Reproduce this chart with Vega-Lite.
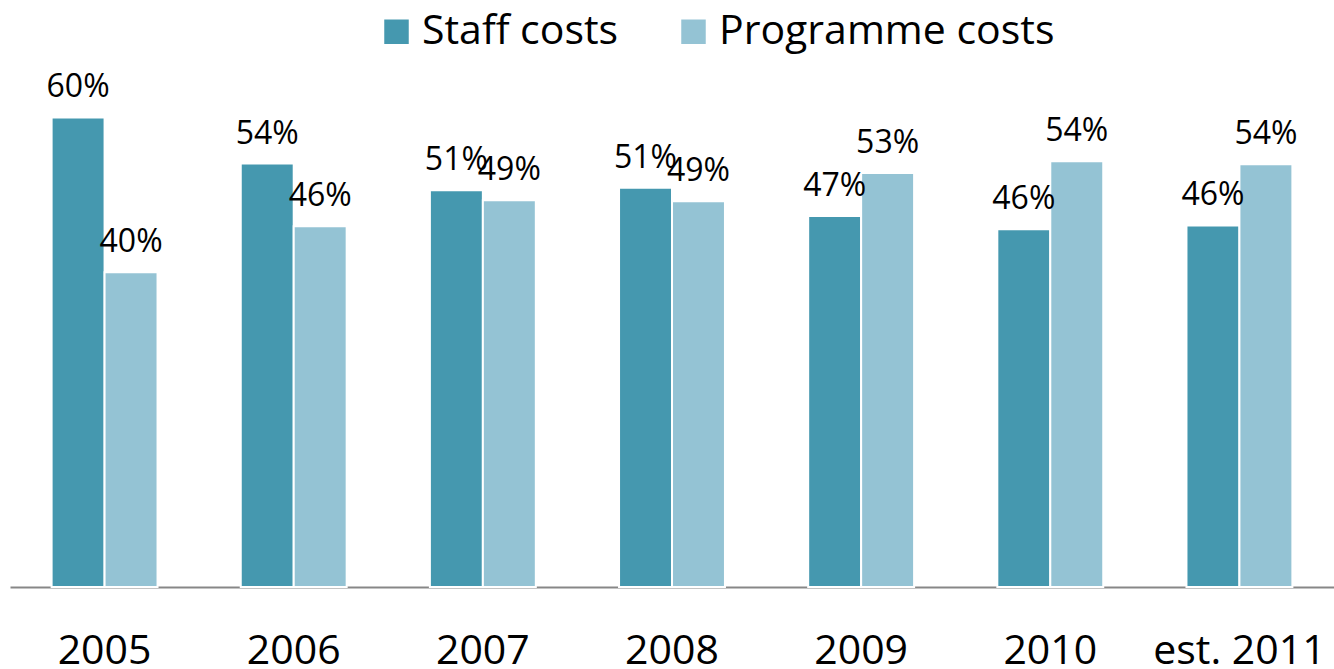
{
  "$schema": "https://vega.github.io/schema/vega-lite/v6.json",
  "autosize": "none",
  "padding": {"left": 10, "top": 0, "right": 0, "bottom": 82},
  "width": 1324,
  "height": 587,
  "background": "white",
  "config": {"view": {"stroke": null}, "font": "Open Sans"},
  "data": {
    "values": [
      {"year": "2005", "type": "Staff costs", "share": 0.600},
      {"year": "2005", "type": "Programme costs", "share": 0.402},
      {"year": "2006", "type": "Staff costs", "share": 0.541},
      {"year": "2006", "type": "Programme costs", "share": 0.461},
      {"year": "2007", "type": "Staff costs", "share": 0.507},
      {"year": "2007", "type": "Programme costs", "share": 0.494},
      {"year": "2008", "type": "Staff costs", "share": 0.510},
      {"year": "2008", "type": "Programme costs", "share": 0.493},
      {"year": "2009", "type": "Staff costs", "share": 0.474},
      {"year": "2009", "type": "Programme costs", "share": 0.529},
      {"year": "2010", "type": "Staff costs", "share": 0.457},
      {"year": "2010", "type": "Programme costs", "share": 0.544},
      {"year": "est. 2011", "type": "Staff costs", "share": 0.462},
      {"year": "est. 2011", "type": "Programme costs", "share": 0.540}
    ]
  },
  "encoding": {
    "x": {
      "field": "year", "type": "nominal", "sort": null,
      "scale": {"paddingInner": 0.44, "paddingOuter": 0.22},
      "axis": {
        "title": null, "labelAngle": 0, "ticks": false, "tickSize": 0,
        "domainColor": "#878787", "domainWidth": 2,
        "labelFont": "Open Sans", "labelFontSize": 41, "labelColor": "black",
        "labelBaseline": "alphabetic", "labelPadding": 76, "labelLimit": 400
      }
    },
    "xOffset": {"field": "type", "type": "nominal", "sort": ["Staff costs", "Programme costs"]},
    "y": {
      "field": "share", "type": "quantitative",
      "scale": {"domain": [0, 0.75], "nice": false, "zero": true},
      "axis": null
    }
  },
  "layer": [
    {
      "mark": {"type": "bar", "stroke": "white", "strokeWidth": 2},
      "encoding": {
        "color": {
          "field": "type", "type": "nominal",
          "sort": ["Staff costs", "Programme costs"],
          "scale": {"domain": ["Staff costs", "Programme costs"], "range": ["#4598AF", "#94C3D4"]},
          "legend": {
            "title": null, "orient": "none", "direction": "horizontal",
            "legendX": 366, "legendY": 11,
            "symbolType": "square", "symbolSize": 600, "symbolStrokeWidth": 0,
            "labelFont": "Open Sans", "labelFontSize": 41, "labelColor": "black",
            "labelOffset": 5, "columnPadding": 54, "padding": 0, "labelLimit": 500
          }
        }
      }
    },
    {
      "mark": {"type": "text", "dy": -20, "baseline": "alphabetic", "align": "center", "font": "Open Sans", "fontSize": 32, "color": "black"},
      "encoding": {
        "text": {"field": "share", "type": "quantitative", "format": ".0%"}
      }
    }
  ]
}
